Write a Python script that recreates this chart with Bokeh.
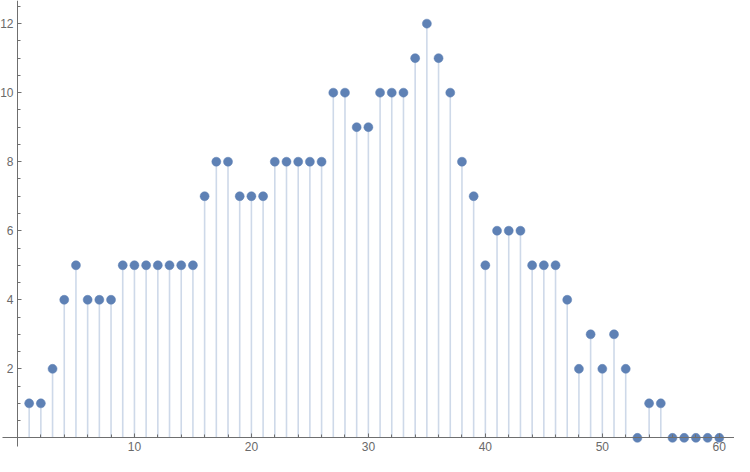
from bokeh.plotting import figure
from bokeh.models import LinearAxis, FixedTicker, Range1d
from bokeh.embed import file_html
from bokeh.resources import INLINE

xs = list(range(1, 61))
ys = [1, 1, 2, 4, 5, 4, 4, 4, 5, 5,
      5, 5, 5, 5, 5, 7, 8, 8, 7, 7,
      7, 8, 8, 8, 8, 8, 10, 10, 9, 9,
      10, 10, 10, 11, 12, 11, 10, 8, 7, 5,
      6, 6, 6, 5, 5, 5, 4, 2, 3, 2,
      3, 2, 0, 1, 1, 0, 0, 0, 0, 0]

x_major = [10, 20, 30, 40, 50, 60]
x_minor = [v for v in range(2, 62, 2) if v % 10 != 0]
y_major = [2, 4, 6, 8, 10, 12]
y_minor = [v / 2 for v in range(1, 26) if v % 4 != 0]

W, H = 734, 456
p = figure(width=W, height=H, output_backend="svg", toolbar_location=None,
           x_range=Range1d(-1.45, 61.3), y_range=Range1d(-0.54, 12.67),
           min_border=0, x_axis_type=None, y_axis_type=None)
p.grid.visible = False
p.outline_line_color = None
p.background_fill_color = "white"
p.border_fill_color = "white"

axis_color = "#6f6f6f"
label_color = "#6a6a6a"

xaxis = LinearAxis(fixed_location=0, bounds=(-1.28, 61.3))
xaxis.ticker = FixedTicker(ticks=x_major, minor_ticks=x_minor)
ya = LinearAxis(fixed_location=0, bounds=(-0.25, 12.67))
ya.ticker = FixedTicker(ticks=y_major, minor_ticks=y_minor)
for ax in (xaxis, ya):
    ax.axis_line_color = axis_color
    ax.axis_line_width = 1
    ax.major_tick_line_color = axis_color
    ax.minor_tick_line_color = axis_color
    ax.major_tick_in = 4
    ax.major_tick_out = 0
    ax.minor_tick_in = 3
    ax.minor_tick_out = 0
    ax.major_label_text_color = label_color
    ax.major_label_text_font = "Liberation Sans"
    ax.major_label_text_font_size = "12px"
    ax.major_label_standoff = 4
p.add_layout(xaxis, "below")
p.add_layout(ya, "left")

stem_x = [x for x, y in zip(xs, ys) if y != 0]
stem_y = [y for y in ys if y != 0]
p.segment(x0=stem_x, y0=[0] * len(stem_x), x1=stem_x, y1=stem_y,
          line_color="#5e81b5", line_alpha=0.3, line_width=1.6)
p.scatter(xs, ys, size=9, fill_color="#5e81b5", line_color="#5e81b5", line_width=0.5)

open("out.html", "w").write(file_html(p, INLINE))
